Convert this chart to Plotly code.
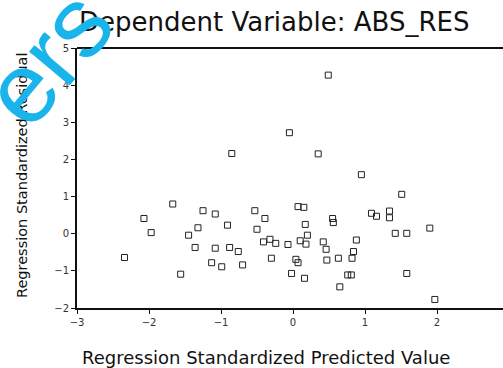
import plotly.graph_objects as go

# Regression standardized predicted value (x) and standardized residual (y)
pred = [-1.67, -2.07, -1.97, -2.34, -1.56, -1.25, -1.08, -1.32, -1.45, -0.91,
        -1.36, -1.08, -0.88, -0.76, -1.13, -0.99, -0.70, -0.53, -0.50, -0.85,
        -0.39, -0.41, -0.32, -0.24, -0.07, 0.07, 0.15, 0.17, 0.10, 0.20,
        0.18, -0.30, 0.04, 0.07, -0.02, 0.16, 0.55, 0.56, 0.42, 0.46,
        0.47, 0.63, 0.88, 0.84, 0.82, 0.76, 0.81, 0.65, 1.09, 1.16,
        1.34, 1.34, 1.42, 1.58, 1.90, 1.51, 0.95, 1.58, 1.97, 0.49,
        -0.05, 0.35]
resid = [0.80, 0.41, 0.03, -0.64, -1.09, 0.62, 0.53, 0.16, -0.04, 0.23,
         -0.37, -0.39, -0.37, -0.48, -0.78, -0.89, -0.84, 0.62, 0.12, 2.16,
         0.41, -0.22, -0.15, -0.26, -0.29, 0.73, 0.71, 0.25, -0.19, -0.04,
         -0.28, -0.66, -0.69, -0.78, -1.07, -1.20, 0.41, 0.30, -0.22, -0.42,
         -0.71, -0.66, -0.17, -0.48, -0.66, -1.11, -1.11, -1.43, 0.55, 0.47,
         0.61, 0.43, 0.01, 0.01, 0.15, 1.06, 1.59, -1.07, -1.77, 4.27,
         2.72, 2.15]

x_ticks = [-3, -2, -1, 0, 1, 2]
y_ticks = [-2, -1, 0, 1, 2, 3, 4, 5]

title_text = "Dependent Variable: ABS_RES"
x_title = "Regression Standardized Predicted Value"
y_title = "Regression Standardized Residual"
watermark = "ers"

fig = go.Figure(go.Scatter(
    x=pred, y=resid, mode="markers",
    marker=dict(symbol="square-open", size=6, color="#222222",
                line=dict(width=1, color="#222222")),
    hoverinfo="skip"))

W, H = 503, 368
L, R, T, B = 77, 0, 48, 60
pw, ph = W - L - R, H - T - B

def px(xp):
    return (xp - L) / pw

def py(yp):
    return (H - B - yp) / ph

FONT = "DejaVu Sans, Liberation Sans, Arial, sans-serif"

fig.update_layout(
    width=W, height=H,
    margin=dict(l=L, r=R, t=T, b=B),
    paper_bgcolor="white", plot_bgcolor="white",
    showlegend=False,
    font=dict(family=FONT, color="#222222"),
    xaxis=dict(range=[-3, -3 + pw / 72.0], tickvals=x_ticks, showgrid=False,
               zeroline=False, showline=True, linecolor="#111111", linewidth=2,
               mirror=False, ticks="outside", ticklen=4, tickcolor="#111111",
               tickfont=dict(size=10, color="#333333")),
    yaxis=dict(range=[-2, 5], tickvals=y_ticks, showgrid=False,
               zeroline=False, showline=True, linecolor="#111111", linewidth=2,
               ticks="outside", ticklen=4, tickcolor="#111111",
               tickfont=dict(size=10, color="#333333")),
    shapes=[dict(type="line", xref="paper", yref="paper", x0=0, x1=1, y0=1, y1=1,
                 line=dict(color="#111111", width=2))],
    annotations=[
        dict(text=title_text, xref="paper", yref="paper", x=px(274), y=py(22),
             xanchor="center", yanchor="middle", showarrow=False,
             font=dict(size=26, color="#111111")),
        dict(text=x_title, xref="paper", yref="paper", x=px(266), y=py(357),
             xanchor="center", yanchor="middle", showarrow=False,
             font=dict(size=18, color="#111111")),
        dict(text=y_title, xref="paper", yref="paper", x=px(22), y=py(175),
             xanchor="center", yanchor="middle", showarrow=False, textangle=-90,
             font=dict(size=14.5, color="#111111")),
        dict(text=watermark, xref="paper", yref="paper", x=px(47), y=py(58),
             xanchor="center", yanchor="middle", showarrow=False, textangle=-50,
             font=dict(size=100, color="#19b4ec",
                       family="Liberation Sans, Arial, sans-serif")),
    ],
)

fig.write_html("out.html", config={"displayModeBar": False, "staticPlot": True},
               post_script="document.body.style.margin='0';document.body.style.overflow='hidden';")
